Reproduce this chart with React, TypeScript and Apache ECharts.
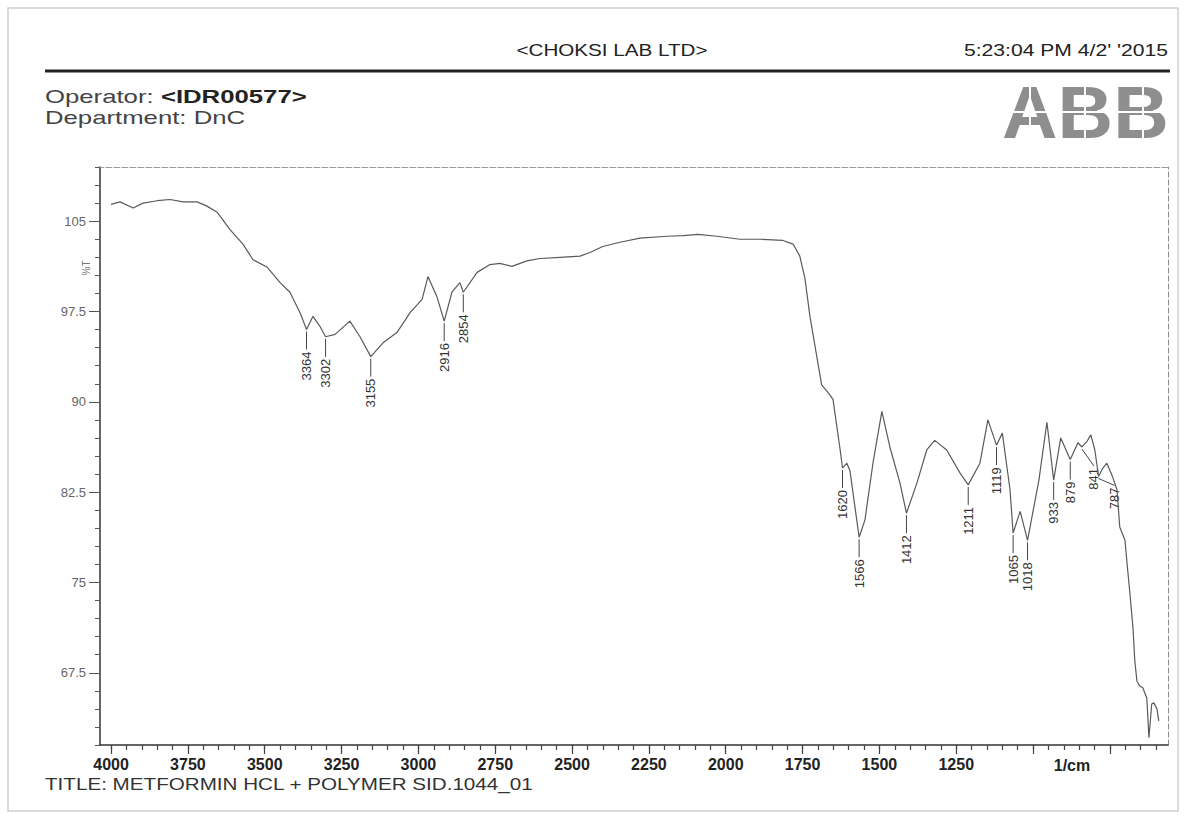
import React, { useEffect, useRef } from "react";
import * as echarts from "echarts";

// ---- Spectrum data (wavenumber in 1/cm, transmittance in %T) ----
const wavenumbers = [
  4000, 3971, 3928, 3896, 3850, 3808, 3766, 3720, 3688, 3655,
  3613, 3571, 3538, 3493, 3450, 3418, 3385, 3364, 3343, 3320,
  3302, 3271, 3223, 3190, 3155, 3115, 3070, 3027, 2988, 2969,
  2940, 2916, 2891, 2865, 2854, 2809, 2767, 2735, 2696, 2647,
  2604, 2539, 2474, 2442, 2400, 2344, 2279, 2191, 2139, 2090,
  2029, 1954, 1889, 1814, 1781, 1759, 1742, 1726, 1688, 1668,
  1651, 1629, 1620, 1606, 1596, 1566, 1547, 1521, 1492, 1466,
  1433, 1412, 1378, 1346, 1320, 1281, 1238, 1211, 1173, 1147,
  1119, 1100, 1075, 1065, 1042, 1018, 981, 955, 933, 910,
  879, 854, 841, 825, 812, 799, 787, 773, 760, 741,
  727, 718, 701, 695, 685, 675, 669, 662, 653, 643,
  630, 623, 614, 607, 597, 591,
];
const transmittance = [
  106.4, 106.6, 106.1, 106.5, 106.7, 106.8, 106.6, 106.6, 106.25, 105.75,
  104.3, 103.1, 101.8, 101.2, 99.9, 99.1, 97.4, 96.0, 97.1, 96.25,
  95.4, 95.6, 96.7, 95.4, 93.75, 94.9, 95.75, 97.4, 98.5, 100.4,
  98.75, 96.7, 99.1, 99.9, 99.1, 100.75, 101.4, 101.5, 101.25, 101.7,
  101.9, 102.0, 102.1, 102.4, 102.9, 103.25, 103.6, 103.75, 103.8, 103.9,
  103.75, 103.5, 103.5, 103.4, 103.1, 102.1, 100.2, 97.1, 91.4, 90.8,
  90.2, 86.25, 84.5, 84.9, 84.3, 78.75, 80.2, 84.9, 89.2, 86.25,
  83.25, 80.75, 83.25, 86.0, 86.8, 86.0, 84.1, 83.1, 84.9, 88.5,
  86.4, 87.4, 82.7, 79.1, 80.9, 78.5, 83.5, 88.3, 83.5, 87.0,
  85.2, 86.6, 86.25, 86.7, 87.25, 86.0, 83.8, 84.5, 84.9, 83.75,
  82.7, 79.6, 78.5, 76.8, 74.1, 71.25, 68.5, 66.8, 66.4, 66.25,
  65.4, 62.1, 64.9, 65.0, 64.5, 63.5,
];

// ---- Peak table ----
const peakLabels = ["3364", "3302", "3155", "2916", "2854", "1620", "1566", "1412", "1211", "1119", "1065", "1018", "933", "879", "841", "787"];
const peakWavenumbers = [3364, 3302, 3155, 2916, 2854, 1620, 1566, 1412, 1211, 1119, 1065, 1018, 933, 879, 841, 787];
const peakTransmittance = [96.0, 95.4, 93.75, 96.7, 99.1, 84.5, 78.75, 80.75, 83.1, 86.4, 79.1, 78.5, 83.5, 85.2, 86.25, 83.8];

// ---- Axis ticks ----
const xMajorTicks = [4000, 3750, 3500, 3250, 3000, 2750, 2500, 2250, 2000, 1750, 1500, 1250, 1000, 750];
const xLabelTicks = [4000, 3750, 3500, 3250, 3000, 2750, 2500, 2250, 2000, 1750, 1500, 1250];
const yMajorTicks = [67.5, 75, 82.5, 90, 97.5, 105];

// ---- Texts ----
const headerTitle = "<CHOKSI LAB LTD>";
const timestamp = "5:23:04 PM 4/2' '2015";
const operatorLabel = "Operator: ";
const operatorId = "<IDR00577>";
const departmentText = "Department: DnC";
const footerTitle = "TITLE: METFORMIN HCL + POLYMER SID.1044_01";
const yName = "%T";
const xName = "1/cm";
const logoText = "ABB";

const FONT = '"Liberation Sans", Arial, Helvetica, sans-serif';

const labelShift: Record<string, { dx: number; dy: number }> = {
  "841": { dx: 12, dy: -1 },
  "787": { dx: 16, dy: -11 },
};

const xMinorTicks: number[] = [];
for (let v = 600; v <= 4000; v += 50) xMinorTicks.push(v);

export default function App() {
  const ref = useRef<HTMLDivElement>(null);
  useEffect(() => {
    document.body.style.margin = "0";
    if (!ref.current) return;
    const chart = echarts.init(ref.current, null, { renderer: "svg" });
    const spectrum = wavenumbers.map((w, i) => [w, transmittance[i]]);
    const peaks = peakWavenumbers.map((w, i) => [w, peakTransmittance[i]]);
    const xRange = { min: 561, max: 4036 };
    const yRange = { min: 61.5, max: 109.5 };

    const option: any = {
      animation: false,
      backgroundColor: "#ffffff",
      grid: { left: 100, top: 167, width: 1068, height: 578, containLabel: false },
      xAxis: [
        {
          type: "value", inverse: true, ...xRange, position: "bottom",
          axisLine: { show: true, lineStyle: { color: "#333", width: 1.5 } },
          axisTick: { show: true, customValues: xMinorTicks, length: 5, lineStyle: { color: "#444", width: 1.2 } },
          axisLabel: { show: false },
          splitLine: { show: false },
        },
        {
          type: "value", inverse: true, ...xRange, position: "bottom",
          axisLine: { show: false },
          axisTick: { show: true, customValues: xMajorTicks, length: 9, lineStyle: { color: "#444", width: 1.2 } },
          axisLabel: {
            show: true, customValues: xLabelTicks, margin: 11,
            color: "#222", fontSize: 16, fontWeight: "bold", fontFamily: FONT,
            formatter: (v: number) => String(Math.round(v)),
          },
          splitLine: { show: false },
        },
        {
          type: "value", inverse: true, ...xRange, position: "top",
          axisLine: { show: true, lineStyle: { color: "#9a9a9a", width: 1, type: [6, 2] } },
          axisTick: { show: false }, axisLabel: { show: false }, splitLine: { show: false },
        },
      ],
      yAxis: [
        {
          type: "value", ...yRange, interval: 1.5, position: "left",
          axisLine: { show: true, lineStyle: { color: "#333", width: 1.5 } },
          axisTick: { show: true, length: 5, lineStyle: { color: "#555", width: 1 } },
          axisLabel: { show: false },
          splitLine: { show: false },
        },
        {
          type: "value", ...yRange, position: "left",
          axisLine: { show: false },
          axisTick: { show: true, customValues: yMajorTicks, length: 11, lineStyle: { color: "#555", width: 1 } },
          axisLabel: {
            show: true, customValues: yMajorTicks, margin: 14,
            color: "#666", fontSize: 13, fontFamily: FONT,
            formatter: (v: number) => String(v),
          },
          splitLine: { show: false },
        },
        {
          type: "value", ...yRange, position: "right",
          axisLine: { show: true, lineStyle: { color: "#8a8a8a", width: 1, type: [5, 3] } },
          axisTick: { show: false }, axisLabel: { show: false }, splitLine: { show: false },
        },
      ],
      series: [
        {
          type: "line", xAxisIndex: 0, yAxisIndex: 0, data: spectrum,
          showSymbol: false, symbol: "none", smooth: false,
          lineStyle: { color: "#5a5a5a", width: 1.2 },
          silent: true,
        },
        {
          type: "custom", xAxisIndex: 0, yAxisIndex: 0, data: peaks, silent: true,
          renderItem: (params: any, api: any) => {
            const i = params.dataIndex;
            const label = peakLabels[i];
            const p = api.coord([api.value(0), api.value(1)]);
            const s = labelShift[label] || { dx: 0, dy: 0 };
            const x0 = p[0];
            const y0 = p[1];
            const tx = x0 + s.dx;
            const ty = y0 + 22 + s.dy;
            return {
              type: "group",
              children: [
                {
                  type: "line",
                  shape: { x1: x0, y1: y0 + 2, x2: tx, y2: ty - 2 },
                  style: { stroke: "#444", lineWidth: 1 },
                },
                {
                  type: "text", x: tx, y: ty, rotation: Math.PI / 2,
                  style: {
                    text: label, fill: "#333", font: `13px ${FONT}`,
                    align: "right", verticalAlign: "middle",
                    textAlign: "right", textVerticalAlign: "middle",
                  },
                },
              ],
            };
          },
        },
      ],
      graphic: [
        {
          type: "rect", x: 8, y: 8, shape: { x: 0, y: 0, width: 1170, height: 803 },
          style: { fill: "none", stroke: "#cfcfcf", lineWidth: 1.5 }, silent: true,
        },
        {
          type: "text", x: 612, y: 50, scaleX: 1.29,
          style: { text: headerTitle, fill: "#222", font: `16px ${FONT}`, align: "center", verticalAlign: "middle", textAlign: "center", textVerticalAlign: "middle" },
        },
        {
          type: "text", x: 1168, y: 50, scaleX: 1.32,
          style: { text: timestamp, fill: "#222", font: `16px ${FONT}`, align: "right", verticalAlign: "middle", textAlign: "right", textVerticalAlign: "middle" },
        },
        {
          type: "line", shape: { x1: 45, y1: 71, x2: 1170, y2: 71 },
          style: { stroke: "#222", lineWidth: 3 },
        },
        {
          type: "text", x: 45, y: 97, scaleX: 1.43,
          style: {
            text: `{a|${operatorLabel}}{b|${operatorId}}`, verticalAlign: "middle", textVerticalAlign: "middle",
            rich: {
              a: { fontSize: 18, fontFamily: FONT, fill: "#444", color: "#444" },
              b: { fontSize: 18, fontFamily: FONT, fontWeight: "bold", fill: "#222", color: "#222" },
            },
          },
        },
        {
          type: "text", x: 45, y: 118, scaleX: 1.43,
          style: { text: departmentText, fill: "#444", font: `18px ${FONT}`, verticalAlign: "middle", textVerticalAlign: "middle" },
        },
        {
          type: "text", x: 1002, y: 113, scaleX: 1.04,
          style: { text: logoText, fill: "#8e8e8e", font: `bold 74px ${FONT}`, verticalAlign: "middle", textVerticalAlign: "middle" },
        },
        { type: "line", shape: { x1: 995, y1: 112, x2: 1172, y2: 112 }, style: { stroke: "#fff", lineWidth: 2 } },
        { type: "line", shape: { x1: 1030, y1: 84, x2: 1030, y2: 142 }, style: { stroke: "#fff", lineWidth: 2 } },
        { type: "line", shape: { x1: 1085, y1: 84, x2: 1085, y2: 142 }, style: { stroke: "#fff", lineWidth: 2 } },
        { type: "line", shape: { x1: 1143, y1: 84, x2: 1143, y2: 142 }, style: { stroke: "#fff", lineWidth: 2 } },
        {
          type: "text", x: 86, y: 268, rotation: Math.PI / 2,
          style: { text: yName, fill: "#777", font: `10px ${FONT}`, align: "center", verticalAlign: "middle", textAlign: "center", textVerticalAlign: "middle" },
        },
        {
          type: "text", x: 1072, y: 765,
          style: { text: xName, fill: "#222", font: `bold 16px ${FONT}`, align: "center", verticalAlign: "middle", textAlign: "center", textVerticalAlign: "middle" },
        },
        {
          type: "text", x: 45, y: 784, scaleX: 1.29,
          style: { text: footerTitle, fill: "#333", font: `16px ${FONT}`, verticalAlign: "middle", textVerticalAlign: "middle" },
        },
      ],
    };
    chart.setOption(option);
    return () => chart.dispose();
  }, []);
  return <div ref={ref} style={{ width: 1185, height: 818 }} />;
}
